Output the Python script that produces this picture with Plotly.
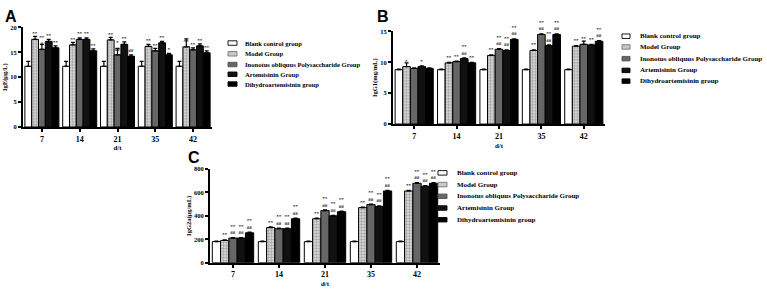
import plotly.graph_objects as go

W, H = 767, 293

days = ["7", "14", "21", "35", "42"]
groups = ["Blank control group", "Model Group", "Inonotus obliquus Polysaccharide Group",
          "Artemisinin Group", "Dihydroartemisinin group"]

# Panel A: IgE
ige_blank = [12.2, 12.2, 12.2, 12.2, 12.2]
ige_model = [17.6, 16.5, 17.5, 16.2, 16.1]
ige_ino = [15.6, 17.6, 14.5, 15.3, 15.5]
ige_art = [17.2, 17.6, 16.6, 16.9, 16.3]
ige_dih = [15.9, 15.3, 14.2, 14.5, 14.9]
ige_err_blank = [1.0, 1.0, 1.0, 1.0, 1.0]
ige_err_model = [0.6, 0.5, 0.5, 0.4, 1.6]
ige_err_ino = [1.0, 0.3, 1.3, 0.5, 0.4]
ige_err_art = [0.4, 0.3, 0.5, 0.3, 0.4]
ige_err_dih = [0.4, 0.4, 0.3, 0.3, 0.4]
ige_sig = [["", "", "", "", ""],
           ["**", "**", "**", "**", "**"],
           ["**<br>#", "**", "*<br>##", "**", "**"],
           ["**", "**", "**", "**", "**"],
           ["**", "**", "##", "*", "**"]]

# Panel B: IgG1
igg1_blank = [8.8, 8.8, 8.8, 8.8, 8.8]
igg1_model = [9.3, 9.9, 11.1, 11.9, 12.6]
igg1_ino = [9.0, 10.1, 12.1, 14.5, 12.9]
igg1_art = [9.3, 10.6, 11.9, 12.7, 12.8]
igg1_dih = [9.0, 9.9, 13.7, 14.5, 13.4]
igg1_err_blank = [0.1, 0.1, 0.1, 0.1, 0.1]
igg1_err_model = [0.6, 0.1, 0.1, 0.1, 0.1]
igg1_err_ino = [0.1, 0.1, 0.1, 0.1, 0.5]
igg1_err_art = [0.1, 0.1, 0.1, 0.1, 0.1]
igg1_err_dih = [0.1, 0.1, 0.1, 0.1, 0.1]
igg1_sig = [["", "", "", "", ""],
            ["*", "**", "**", "**", "**"],
            ["", "**", "**<br>##", "**<br>##", "**"],
            ["*", "**<br>##", "**<br>##", "**<br>##", "**"],
            ["", "**", "**<br>##", "**<br>##", "**<br>##"]]

# Panel C: IgG2a
igg2a_blank = [180, 180, 180, 180, 180]
igg2a_model = [190, 300, 375, 470, 612]
igg2a_ino = [210, 290, 445, 496, 678]
igg2a_art = [210, 290, 400, 480, 653]
igg2a_dih = [255, 375, 435, 612, 678]
igg2a_err = [5, 5, 5, 5, 5]
igg2a_sig = [["", "", "", "", ""],
             ["**", "**", "**", "**", "**"],
             ["**<br>##", "**<br>##", "**<br>##", "**<br>##", "**<br>##"],
             ["**<br>##", "**<br>##", "**<br>##", "**<br>##", "**<br>##"],
             ["**<br>##", "**<br>##", "**<br>##", "**<br>##", "**<br>##"]]

fills = ["#ffffff", "#cfcfcf", "#666666", "#111111", "#000000"]
pat_shapes = ["", ".", "", "", ""]

SERIF = "Liberation Serif"
SANS = "Liberation Sans"


def px_x(x):
    return x / W


def px_y(y):
    return 1 - y / H


fig = go.Figure()

panels = [
    ("x", "y", [ige_blank, ige_model, ige_ino, ige_art, ige_dih],
     [ige_err_blank, ige_err_model, ige_err_ino, ige_err_art, ige_err_dih], ige_sig),
    ("x2", "y2", [igg1_blank, igg1_model, igg1_ino, igg1_art, igg1_dih],
     [igg1_err_blank, igg1_err_model, igg1_err_ino, igg1_err_art, igg1_err_dih], igg1_sig),
    ("x3", "y3", [igg2a_blank, igg2a_model, igg2a_ino, igg2a_art, igg2a_dih],
     [igg2a_err] * 5, igg2a_sig),
]

for xa, ya, vals, errs, sigs in panels:
    for i in range(5):
        marker = dict(color=fills[i], line=dict(color="black", width=1))
        if pat_shapes[i]:
            marker["pattern"] = dict(shape=pat_shapes[i], fgcolor="#666666", bgcolor="#e0e0e0",
                                     size=3, solidity=0.5)
        fig.add_trace(go.Bar(
            x=days, y=vals[i], name=groups[i], xaxis=xa, yaxis=ya,
            marker=marker, showlegend=False,
            error_y=dict(type="data", array=errs[i], arrayminus=[0] * len(errs[i]),
                         symmetric=False, color="black", thickness=1.2, width=2),
            text=sigs[i], textposition="outside", cliponaxis=False,
            constraintext="none",
            textfont=dict(size=5, family=SERIF, color="black", weight="bold"),
        ))

axis_common = dict(showline=True, linecolor="black", linewidth=2, ticks="outside",
                   tickcolor="black", tickwidth=1.6, ticklen=3, showgrid=False,
                   zeroline=False,
                   tickfont=dict(family=SERIF, size=8, color="black", weight="bold"))

ytick = dict(family=SERIF, size=6.5, color="black", weight="bold")
xtitle = dict(family=SERIF, size=7, color="black", weight="bold")
ytitle = dict(family=SERIF, size=6.5, color="black", weight="bold")

layout = dict(
    width=W, height=H, margin=dict(l=0, r=0, t=0, b=0),
    paper_bgcolor="white", plot_bgcolor="white",
    barmode="group", bargap=0.1, bargroupgap=0.0,
    showlegend=False,
)

# Panel A
layout["xaxis"] = dict(axis_common, domain=[px_x(23), px_x(212)], anchor="y", type="category",
                       title=dict(text="d/t", font=xtitle, standoff=3))
layout["yaxis"] = dict(axis_common, domain=[px_y(126), px_y(24)], anchor="x", range=[0, 20], dtick=5,
                       tickfont=ytick, title=dict(text="IgE(μg/L)", font=ytitle, standoff=2))
# Panel B
layout["xaxis2"] = dict(axis_common, domain=[px_x(393), px_x(605)], anchor="y2", type="category",
                        title=dict(text="d/t", font=xtitle, standoff=3))
layout["yaxis2"] = dict(axis_common, domain=[px_y(123), px_y(28)], anchor="x2", range=[0, 15], dtick=5,
                        tickfont=ytick, title=dict(text="IgG1(mg/mL)", font=ytitle, standoff=2))
# Panel C
layout["xaxis3"] = dict(axis_common, domain=[px_x(210), px_x(440)], anchor="y3", type="category",
                        title=dict(text="d/t", font=xtitle, standoff=3))
layout["yaxis3"] = dict(axis_common, domain=[px_y(265), px_y(169)], anchor="x3", range=[0, 800], dtick=200,
                        tickfont=ytick, title=dict(text="IgG2a(μg/mL)", font=ytitle, standoff=2))

fig.update_layout(**layout)

# Panel letters
for letter, x, y in [("A", 3, 2), ("B", 375, 2), ("C", 186, 146)]:
    fig.add_annotation(text=letter, x=px_x(x), y=px_y(y), xref="paper", yref="paper",
                       xanchor="left", yanchor="top", showarrow=False,
                       font=dict(family=SANS, size=16, color="black", weight="bold"))

# Legends (drawn)
legend_specs = [
    (228, 237, 243, [40, 51, 62, 72, 82], 6.6),
    (622, 630, 638, [33, 44, 56, 68, 79], 7.0),
    (438, 447, 455, [173, 185, 197, 209, 221], 7.0),
]
leg_fills = ["#ffffff", "#c8c8c8", "#666666", "#111111", "#000000"]
leg_lines = ["#000000", "#777777", "#555555", "#000000", "#000000"]
for x0, x1, tx, rows, fs in legend_specs:
    for i, ry in enumerate(rows):
        fig.add_shape(type="rect", xref="paper", yref="paper",
                      x0=px_x(x0), x1=px_x(x1), y0=px_y(ry + 2.3), y1=px_y(ry - 2.3),
                      fillcolor=leg_fills[i], line=dict(color=leg_lines[i], width=0.9))
        fig.add_annotation(text=groups[i], x=px_x(tx), y=px_y(ry), xref="paper", yref="paper",
                           xanchor="left", yanchor="middle", showarrow=False,
                           font=dict(family=SERIF, size=fs, color="black", weight="bold"))

fig.write_html("out.html")
